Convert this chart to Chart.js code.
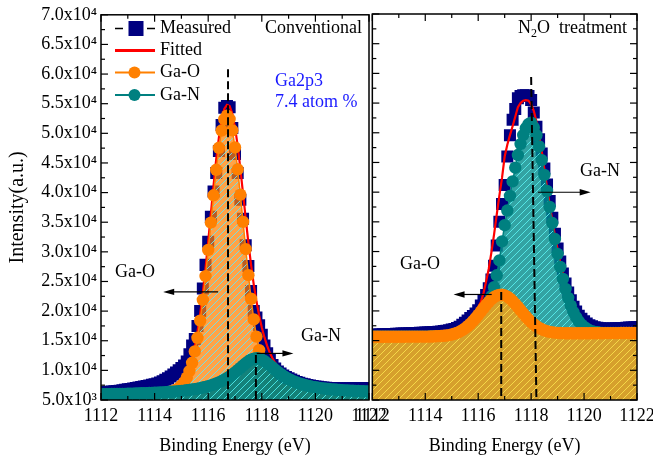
<!DOCTYPE html>
<html><head><meta charset="utf-8">
<script src="https://cdn.jsdelivr.net/npm/chart.js@4.4.1/dist/chart.umd.min.js"></script>
<style>
html,body{margin:0;padding:0;background:#fff;overflow:hidden;width:653px;height:458px;}
#boxA{position:absolute;left:0;top:0;width:400px;height:458px;}
#boxB{position:absolute;left:350px;top:0;width:310px;height:458px;}
</style></head><body>
<div id="boxA"><canvas id="cA" width="400" height="458"></canvas></div>
<div id="boxB"><canvas id="cB" width="310" height="458"></canvas></div>
<script>
// ---------- data ----------
const energy = [
1112.0,1112.1,1112.2,1112.3,1112.4,1112.5,1112.6,1112.7,1112.8,1112.9,
1113.0,1113.1,1113.2,1113.3,1113.4,1113.5,1113.6,1113.7,1113.8,1113.9,
1114.0,1114.1,1114.2,1114.3,1114.4,1114.5,1114.6,1114.7,1114.8,1114.9,
1115.0,1115.1,1115.2,1115.3,1115.4,1115.5,1115.6,1115.7,1115.8,1115.9,
1116.0,1116.1,1116.2,1116.3,1116.4,1116.5,1116.6,1116.7,1116.8,1116.9,
1117.0,1117.1,1117.2,1117.3,1117.4,1117.5,1117.6,1117.7,1117.8,1117.9,
1118.0,1118.1,1118.2,1118.3,1118.4,1118.5,1118.6,1118.7,1118.8,1118.9,
1119.0,1119.1,1119.2,1119.3,1119.4,1119.5,1119.6,1119.7,1119.8,1119.9,
1120.0,1120.1,1120.2,1120.3,1120.4,1120.5,1120.6,1120.7,1120.8,1120.9,
1121.0,1121.1,1121.2,1121.3,1121.4,1121.5,1121.6,1121.7,1121.8,1121.9,
1122.0];

// Conventional (left panel)
const measuredConv = [
6250,6290,6330,6380,6420,6470,6520,6580,6640,6720,
6800,6870,6940,7010,7090,7180,7270,7370,7460,7560,
7650,7800,7950,8150,8400,8650,8950,9300,9650,10000,
10400,10800,11500,12700,14200,15300,17500,20000,23800,27800,
31700,35900,40200,43300,47000,51400,54300,54600,54400,50900,
46500,43300,38800,35600,31100,27600,23400,20000,18900,17600,
16000,14200,12900,11800,10900,10300,9800,9450,9150,8900,
8650,8450,8250,8050,7900,7760,7640,7530,7440,7360,
7290,7230,7170,7120,7080,7040,7010,6990,6970,6960,
6950,6950,6960,6970,6980,6990,7000,7000,7010,7010,
7020];
const fittedConv = [
6030,6040,6050,6060,6070,6080,6090,6100,6110,6130,
6150,6170,6180,6200,6210,6240,6260,6280,6320,6360,
6410,6460,6520,6590,6670,6790,6920,7090,7330,7640,
8080,8690,9540,10700,12160,14140,16520,19500,23100,27200,
31720,36460,41210,45680,49300,52200,54100,54800,54600,53300,
51000,47920,44020,39810,35590,31530,27800,24480,21650,19290,
17220,15560,14130,12960,12040,11250,10620,10080,9630,9240,
8920,8630,8380,8170,7970,7810,7660,7540,7430,7330,
7250,7170,7100,7040,6980,6930,6880,6840,6800,6760,
6730,6700,6670,6650,6630,6600,6580,6560,6540,6520,
6510];
const gaOConv = [
5860,5860,5870,5870,5870,5870,5880,5880,5880,5890,
5900,5910,5910,5920,5920,5930,5940,5950,5970,5990,
6020,6050,6090,6140,6200,6290,6390,6530,6730,7010,
7410,7970,8770,9880,11280,13190,15500,18400,21910,25910,
30320,34930,39540,43850,47560,50470,52380,52990,52400,50510,
47620,43930,39640,35050,30460,26070,22080,18590,15700,13400,
11500,10100,9000,8200,7660,7260,6990,6790,6650,6550,
6480,6420,6370,6340,6300,6280,6260,6250,6240,6230,
6230,6220,6220,6220,6210,6210,6210,6210,6200,6200,
6200,6200,6200,6200,6200,6190,6190,6190,6190,6190,
6190];
const gaNConv = [
5970,5980,5990,5990,6000,6010,6010,6020,6030,6040,
6060,6070,6080,6100,6110,6130,6140,6160,6180,6200,
6220,6240,6260,6290,6320,6350,6380,6410,6450,6490,
6530,6580,6640,6700,6760,6840,6920,7000,7100,7200,
7320,7460,7610,7780,7970,8180,8420,8680,8980,9300,
9650,10020,10420,10810,11190,11530,11800,11980,12050,11990,
11820,11560,11230,10860,10490,10100,9740,9400,9090,8800,
8560,8330,8130,7950,7790,7650,7520,7410,7310,7220,
7150,7080,7010,6950,6900,6850,6800,6760,6730,6690,
6660,6630,6600,6580,6560,6540,6520,6500,6480,6460,
6450];

// N2O treatment (right panel)
const measuredN2O = [
15980,16000,16020,16040,16060,16080,16100,16110,16130,16150,
16170,16180,16200,16210,16230,16250,16270,16290,16310,16330,
16350,16370,16400,16430,16460,16500,16550,16610,16680,16760,
16850,16960,17120,17350,17650,18000,18400,18800,19150,19550,
20100,20900,21800,22700,23800,25300,27600,31000,35000,38000,
41200,46000,49600,52200,54000,55800,56200,56300,56300,56200,
55500,53400,51000,48900,46500,44000,41300,38500,35700,33000,
30500,28300,26300,24600,23100,21800,20700,19900,19200,18700,
18250,17900,17600,17400,17250,17150,17080,17040,17020,17010,
17020,17040,17060,17080,17100,17130,17160,17190,17220,17250,
17280];
const fittedN2O = [
15850,15850,15860,15860,15870,15870,15880,15880,15890,15890,
15900,15900,15910,15910,15920,15930,15940,15950,15960,15970,
15980,15990,16000,16020,16040,16060,16080,16110,16140,16200,
16300,16450,16650,16900,17200,17600,18100,18600,19200,19900,
20600,21500,23000,25000,27100,29900,32900,36200,39400,42400,
46000,48000,49600,51100,52700,54300,55000,55400,55500,55400,
54800,53700,51900,49600,46900,43900,40800,37900,35200,32700,
30400,28200,26300,24600,23100,21800,20700,19800,19050,18450,
17950,17550,17250,17000,16820,16680,16580,16500,16440,16400,
16370,16350,16330,16320,16310,16300,16300,16290,16290,16290,
16290];
const gaNN2O = [
15650,15650,15650,15650,15650,15660,15660,15660,15660,15660,
15660,15660,15660,15670,15670,15670,15670,15670,15680,15680,
15680,15680,15690,15690,15700,15700,15720,15740,15750,15780,
15820,15870,15950,16040,16170,16350,16580,16890,17270,17700,
18100,18700,19400,20300,21300,22500,24000,26000,28500,31700,
34430,36900,39380,41800,44120,46250,48090,49620,50760,51450,
51700,50900,49600,47700,45400,42900,40200,37500,34800,32100,
29600,27400,25400,23700,22200,20900,19800,18950,18250,17700,
17300,17000,16730,16590,16480,16400,16350,16310,16300,16290,
16280,16270,16270,16270,16270,16270,16270,16270,16270,16270,
16270];
const gaON2O = [
15650,15650,15650,15650,15650,15660,15660,15660,15660,15660,
15660,15660,15660,15670,15670,15670,15670,15670,15680,15680,
15680,15680,15690,15700,15730,15750,15770,15810,15860,15930,
16020,16150,16310,16510,16760,17060,17420,17820,18280,18780,
19330,19900,20460,21020,21520,21970,22320,22570,22710,22730,
22610,22400,22070,21660,21180,20660,20120,19590,19060,18590,
18140,17760,17420,17140,16910,16720,16580,16470,16390,16340,
16300,16270,16260,16240,16240,16230,16220,16230,16230,16240,
16240,16240,16240,16250,16250,16250,16250,16250,16260,16260,
16260,16260,16260,16260,16270,16270,16270,16270,16270,16270,
16270];

// peak-position guide lines (energy, intensity)
const peakLinesConv = [ [[1116.74,60800],[1116.74,5000]], [[1117.78,12600],[1117.78,5000]] ];
const peakLinesN2O  = [ [[1116.87,23200],[1116.87,5000]], [[1118.00,59400],[1118.20,5000]] ];
// arrows (from, to) in energy/intensity
const arrowsConv = [ [[1116.37,23240],[1114.32,23240]], [[1117.81,12860],[1119.18,12860]] ];
const arrowsN2O  = [ [[1116.51,22770],[1115.07,22770]], [[1118.26,39980],[1120.25,39980]] ];

// ticks
const xMajorTicks = [1112,1114,1116,1118,1120,1122];
const xTickLabels = ['1112','1114','1116','1118','1120','1122'];
const xMinorTicks = [1113,1115,1117,1119,1121];
const yMajorTicks = [5000,10000,15000,20000,25000,30000,35000,40000,45000,50000,55000,60000,65000,70000];
const yTickLabels = ['5.0x10\u00b3','1.0x10\u2074','1.5x10\u2074','2.0x10\u2074','2.5x10\u2074','3.0x10\u2074','3.5x10\u2074',
                     '4.0x10\u2074','4.5x10\u2074','5.0x10\u2074','5.5x10\u2074','6.0x10\u2074','6.5x10\u2074','7.0x10\u2074'];
const yMinorTicks = [7500,12500,17500,22500,27500,32500,37500,42500,47500,52500,57500,62500,67500];
const legendLabels = ['Measured','Fitted','Ga-O','Ga-N'];

// ---------- styling ----------
const FONT = "'Liberation Serif','Times New Roman',serif";
const NAVY='#000080', RED='#ff0000', ORANGE='#ff8000', TEAL='#008080', BLUE='#1a1aff';

function hatch(bg, line, s, lw){
  const c=document.createElement('canvas'); c.width=s; c.height=s;
  const g=c.getContext('2d');
  g.fillStyle=bg; g.fillRect(0,0,s,s);
  g.strokeStyle=line; g.lineWidth=lw;
  g.beginPath(); g.moveTo(-1,s+1); g.lineTo(s+1,-1); g.stroke();
  g.beginPath(); g.moveTo(-1,1); g.lineTo(1,-1); g.stroke();
  g.beginPath(); g.moveTo(s-1,s+1); g.lineTo(s+1,s-1); g.stroke();
  return g.createPattern(c,'repeat');
}
const patOConv = hatch('rgba(255,128,0,0.72)','rgba(110,225,235,0.95)',7,1);
const patNConv = hatch('rgba(0,128,128,0.92)','rgba(70,225,225,1)',7,1);
const patNN2O  = hatch('rgba(0,140,140,0.80)','rgba(85,230,230,1)',7,1);
const patON2O  = hatch('rgba(214,160,44,1)','rgba(245,216,72,1)',7,1);

function series(ys){ return energy.map((e,i)=>({x:e,y:ys[i]})); }
function pairs(p){ return p.map(q=>({x:q[0],y:q[1]})); }

// ---------- plugins ----------
const framePlugin = {
  id:'frame',
  afterDatasetsDraw(chart,args,o){
    const {ctx,chartArea:a,scales:{x,y}}=chart;
    const sides=o.sides||[];
    ctx.save(); ctx.strokeStyle='#000'; ctx.lineWidth=1.2;
    const seg=(x0,y0,x1,y1)=>{ctx.beginPath();ctx.moveTo(x0,y0);ctx.lineTo(x1,y1);ctx.stroke();};
    const xt=(v,L)=>{const p=x.getPixelForValue(v); if(sides.includes('bottom')) seg(p,a.bottom,p,a.bottom-L); if(sides.includes('top')) seg(p,a.top,p,a.top+L);};
    const yt=(v,L)=>{const p=y.getPixelForValue(v); if(sides.includes('left')) seg(a.left,p,a.left+L,p); if(sides.includes('right')) seg(a.right,p,a.right-L,p);};
    xMajorTicks.forEach(v=>xt(v,7)); xMinorTicks.forEach(v=>xt(v,4));
    yMajorTicks.forEach(v=>yt(v,7)); yMinorTicks.forEach(v=>yt(v,4));
    ctx.lineWidth=1.5;
    ctx.strokeRect(a.left,a.top,a.right-a.left,a.bottom-a.top);
    ctx.restore();
  }
};
const notesPlugin = {
  id:'notes',
  afterDraw(chart,args,o){
    const {ctx,scales:{x,y}}=chart; const off=o.offsetX||0;
    ctx.save(); ctx.textBaseline='middle';
    (o.texts||[]).forEach(t=>{
      ctx.fillStyle=t.color||'#000';
      if(t.parts){
        let cx=t.x-off;
        t.parts.forEach(p=>{ctx.font=p[1]+'px '+FONT; ctx.textAlign='left'; ctx.fillText(p[0],cx,t.y+p[2]); cx+=ctx.measureText(p[0]).width;});
      } else {
        ctx.font=(t.size||18)+'px '+FONT; ctx.textAlign=t.align||'left';
        ctx.fillText(t.text,t.x-off,t.y);
      }
    });
    ctx.strokeStyle='#000'; ctx.fillStyle='#000'; ctx.lineWidth=1.2;
    (o.arrows||[]).forEach(ar=>{
      const x0=x.getPixelForValue(ar[0][0]), y0=y.getPixelForValue(ar[0][1]);
      const x1=x.getPixelForValue(ar[1][0]), y1=y.getPixelForValue(ar[1][1]);
      const dir=Math.sign(x1-x0);
      ctx.beginPath(); ctx.moveTo(x0,y0); ctx.lineTo(x1-dir*8,y1); ctx.stroke();
      ctx.beginPath(); ctx.moveTo(x1,y1); ctx.lineTo(x1-dir*11,y1-3.2); ctx.lineTo(x1-dir*11,y1+3.2); ctx.closePath(); ctx.fill();
    });
    ctx.restore();
  }
};
const legendPlugin = {
  id:'lg',
  afterDraw(chart,args,o){
    if(!o.show) return;
    const ctx=chart.ctx; ctx.save();
    const ys=[28.5,50.5,72.5,95]; const x0=115,x1=155,tx=160;
    ctx.font='18px '+FONT; ctx.textBaseline='middle'; ctx.textAlign='left';
    legendLabels.forEach((lab,i)=>{
      const yy=ys[i];
      if(i===0){
        ctx.strokeStyle='#000'; ctx.lineWidth=1.5;
        ctx.beginPath(); ctx.moveTo(x0,yy); ctx.lineTo(x0+8,yy); ctx.moveTo(x1-8,yy); ctx.lineTo(x1,yy); ctx.stroke();
        ctx.fillStyle=NAVY; ctx.fillRect(128.5,yy-7.5,15,15);
      } else if(i===1){
        ctx.strokeStyle=RED; ctx.lineWidth=3;
        ctx.beginPath(); ctx.moveTo(x0,yy); ctx.lineTo(x1,yy); ctx.stroke();
      } else {
        const c=i===2?ORANGE:TEAL;
        ctx.strokeStyle=c; ctx.lineWidth=2;
        ctx.beginPath(); ctx.moveTo(x0,yy); ctx.lineTo(x1,yy); ctx.stroke();
        ctx.fillStyle=c; ctx.beginPath(); ctx.arc(134.5,yy,6,0,Math.PI*2); ctx.fill();
      }
      ctx.fillStyle='#000'; ctx.fillText(lab,tx,yy);
    });
    ctx.restore();
  }
};

function options(cfg){
  return {
    responsive:false, animation:false, events:[],
    layout:{padding:{top:14,right:cfg.padRight,bottom:0,left:0}},
    plugins:{legend:{display:false},tooltip:{enabled:false},
      frame:{sides:cfg.sides}, notes:cfg.notes, lg:{show:cfg.legend}},
    scales:{
      x:{type:'linear',min:1112,max:1122,
        grid:{display:false,drawTicks:false}, border:{display:false},
        ticks:{stepSize:2,autoSkip:false,maxRotation:0,minRotation:0,padding:5,color:'#000',
          font:{family:FONT,size:18},
          callback:(v)=>{const i=xMajorTicks.indexOf(v); return i>=0?xTickLabels[i]:'';}},
        title:{display:true,text:'Binding Energy (eV)',color:'#000',font:{family:FONT,size:18},padding:{top:0,bottom:1}},
        afterFit:(s)=>{s.height=58;}},
      y:{type:'linear',min:5000,max:70000,
        grid:{display:false,drawTicks:false}, border:{display:false},
        ticks:{display:cfg.yLabels,stepSize:5000,autoSkip:false,padding:4,color:'#000',
          font:{family:FONT,size:18},
          callback:(v)=>{const i=yMajorTicks.indexOf(v); return i>=0?yTickLabels[i]:'';}},
        title:{display:cfg.yLabels,text:'Intensity(a.u.)',color:'#000',font:{family:FONT,size:20},padding:{top:6,bottom:0}},
        afterFit:(s)=>{s.width=cfg.yWidth;}}
    }
  };
}

function dashed(lines){
  return lines.map(l=>({label:'', data:pairs(l), borderColor:'#000', borderWidth:2, borderDash:[8,4],
    pointRadius:0, fill:false, order:1, clip:0}));
}

// ---------- left chart ----------
new Chart(document.getElementById('cA'),{
  type:'line',
  data:{datasets:[
    {label:legendLabels[0], data:series(measuredConv), showLine:false, pointStyle:'rect', pointRadius:8.5,
      pointBackgroundColor:NAVY, pointBorderWidth:0, borderColor:NAVY, order:6, clip:0},
    {label:legendLabels[1], data:series(fittedConv), borderColor:RED, borderWidth:2.2, pointRadius:0, order:5, clip:0},
    {label:legendLabels[2], data:series(gaOConv), borderColor:ORANGE, borderWidth:1.5, pointRadius:6.2,
      pointBackgroundColor:ORANGE, pointBorderWidth:0, fill:'start', backgroundColor:patOConv, order:4, clip:0},
    {label:legendLabels[3], data:series(gaNConv), borderColor:TEAL, borderWidth:1.5, pointRadius:6.2,
      pointBackgroundColor:TEAL, pointBorderWidth:0, fill:'start', backgroundColor:patNConv, order:3, clip:0},
    ...dashed(peakLinesConv)
  ]},
  options:options({padRight:31, yWidth:101, yLabels:true, legend:true, sides:['left','top','bottom'],
    notes:{offsetX:0, arrows:arrowsConv, texts:[
      {text:'Conventional', x:362, y:28.5, align:'right'},
      {text:'Ga2p3', x:275, y:81, color:BLUE},
      {text:'7.4 atom %', x:275, y:102, color:BLUE},
      {text:'Ga-O', x:115, y:272},
      {text:'Ga-N', x:301, y:336}
    ]}}),
  plugins:[framePlugin, notesPlugin, legendPlugin]
});

// ---------- right chart ----------
new Chart(document.getElementById('cB'),{
  type:'line',
  data:{datasets:[
    {label:legendLabels[0], data:series(measuredN2O), showLine:false, pointStyle:'rect', pointRadius:8.5,
      pointBackgroundColor:NAVY, pointBorderWidth:0, borderColor:NAVY, order:6, clip:0},
    {label:legendLabels[1], data:series(fittedN2O), borderColor:RED, borderWidth:2.2, pointRadius:0, order:5, clip:0},
    {label:legendLabels[3], data:series(gaNN2O), borderColor:TEAL, borderWidth:1.5, pointRadius:6.2,
      pointBackgroundColor:TEAL, pointBorderWidth:0, fill:'start', backgroundColor:patNN2O, order:4, clip:0},
    {label:legendLabels[2], data:series(gaON2O), borderColor:ORANGE, borderWidth:1.5, pointRadius:6.2,
      pointBackgroundColor:ORANGE, pointBorderWidth:0, fill:'start', backgroundColor:patON2O, order:3, clip:0},
    ...dashed(peakLinesN2O)
  ]},
  options:options({padRight:23, yWidth:19, yLabels:false, legend:false, sides:['left','top','right','bottom'],
    notes:{offsetX:350, arrows:arrowsN2O, texts:[
      {parts:[['N',18,0],['2',12,5],['O  treatment',18,0]], x:518, y:28.5},
      {text:'Ga-O', x:400, y:264},
      {text:'Ga-N', x:580, y:171}
    ]}}),
  plugins:[framePlugin, notesPlugin, legendPlugin]
});
</script>
</body></html>
